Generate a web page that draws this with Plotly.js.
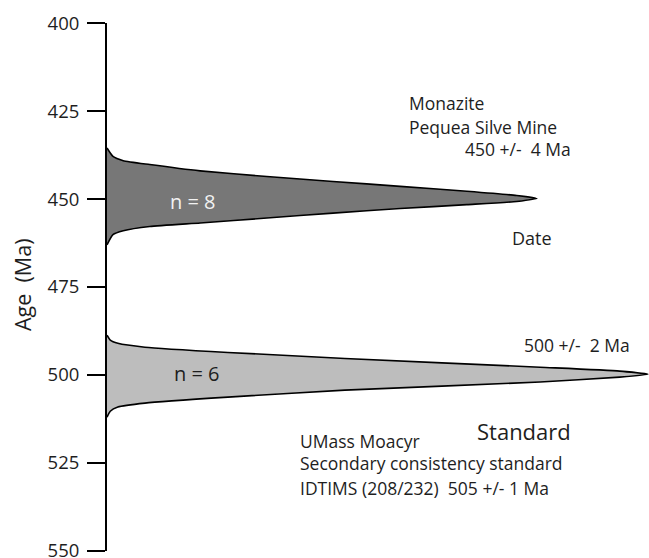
<!DOCTYPE html>
<html>
<head>
<meta charset="utf-8">
<script src="https://cdn.plot.ly/plotly-3.0.1.min.js"></script>
<style>
  html, body { margin: 0; padding: 0; background: #ffffff; }
  #chart { width: 649px; height: 558px; }
</style>
</head>
<body>
<div id="chart"></div>
<script>
// Monazite (Pequea Silve Mine) relative probability curve: age (Ma) vs relative probability
var monaziteAge = [435.5, 437.9, 439.1, 440.2, 442.0, 443.6, 445.0, 446.4, 447.8, 449.0, 449.8,
                   450.7, 451.6, 452.7, 454.0, 455.4, 456.8, 457.8, 459.0, 460.1, 463.0];
var monaziteProb = [0, 1.1, 3.0, 7.9, 17.2, 29.5, 41.7, 54.1, 66.4, 75.6, 79.3,
                    75.6, 66.4, 54.1, 41.7, 29.5, 17.2, 7.9, 3.0, 1.1, 0];

// UMass Moacyr standard relative probability curve
var standardAge = [488.7, 490.1, 491.0, 492.1, 493.6, 495.3, 497.8, 498.9, 499.8,
                   500.6, 502.0, 504.3, 506.3, 508.0, 509.1, 510.3, 512.0];
var standardProb = [0, 0.6, 2.0, 7.0, 22.3, 43.9, 79.9, 94.6, 99.8,
                    94.6, 79.9, 43.9, 22.3, 7.0, 2.0, 0.6, 0];

var yTicks = [400, 425, 450, 475, 500, 525, 550];

var textColor = '#1e1e1e';
var fontFamily = '"Open Sans", "Noto Sans", sans-serif';

var traces = [
  {
    x: monaziteProb, y: monaziteAge, type: 'scatter', mode: 'lines',
    fill: 'toself', fillcolor: '#777777',
    line: { color: '#000000', width: 1.6, shape: 'spline', smoothing: 0.5 },
    hoverinfo: 'skip', showlegend: false
  },
  {
    x: standardProb, y: standardAge, type: 'scatter', mode: 'lines',
    fill: 'toself', fillcolor: '#bdbdbd',
    line: { color: '#000000', width: 1.6, shape: 'spline', smoothing: 0.5 },
    hoverinfo: 'skip', showlegend: false
  }
];

function note(text, x, y, size, color, anchor) {
  return {
    text: text, x: x, y: y, xref: 'x', yref: 'y',
    xanchor: anchor || 'left', yanchor: 'middle', showarrow: false,
    font: { family: fontFamily, size: size, color: color || textColor }
  };
}

var layout = {
  width: 649, height: 558,
  margin: { l: 107, r: 0, t: 23, b: 7, pad: 0 },
  paper_bgcolor: '#ffffff', plot_bgcolor: '#ffffff',
  showlegend: false,
  xaxis: {
    range: [0, 100], visible: false, showgrid: false, zeroline: false, fixedrange: true
  },
  yaxis: {
    range: [550.02, 399.98], tickvals: yTicks, ticktext: yTicks.map(String),
    showline: true, linecolor: '#000000', linewidth: 2,
    ticks: 'outside', ticklen: 18, tickwidth: 1.6, tickcolor: '#000000',
    showgrid: false, zeroline: false,
    tickfont: { family: fontFamily, size: 18.5, color: textColor },
    ticklabelstandoff: 4,
    ticklabeloverflow: 'allow'
  },
  annotations: [
    {
      text: 'Age\u00a0 (Ma)', xref: 'paper', yref: 'paper',
      x: (22 - 107) / 542, y: 1 - (285 - 23) / 528,
      xanchor: 'center', yanchor: 'middle', textangle: -90, showarrow: false,
      font: { family: fontFamily, size: 21.5, color: textColor }
    },
    note('Monazite', 55.4, 422.8, 17.5),
    note('Pequea Silve Mine', 55.4, 429.6, 17.5),
    note('450 +/-\u00a0 4 Ma', 65.7, 435.9, 17.5),
    note('Date', 74.4, 461.2, 18),
    note('500 +/-\u00a0 2 Ma', 76.6, 491.6, 17.5),
    note('Standard', 67.9, 516.0, 22),
    note('UMass Moacyr', 35.2, 518.8, 17.5),
    note('Secondary consistency standard', 35.2, 525.1, 17.5),
    note('IDTIMS (208/232)\u00a0 505 +/- 1 Ma', 35.2, 532.2, 17.5),
    note('n = 8', 11.3, 450.7, 20, '#f2f2f2'),
    note('n = 6', 12.0, 499.5, 20, textColor)
  ]
};

Plotly.newPlot('chart', traces, layout, { staticPlot: true, displayModeBar: false });
</script>
</body>
</html>
